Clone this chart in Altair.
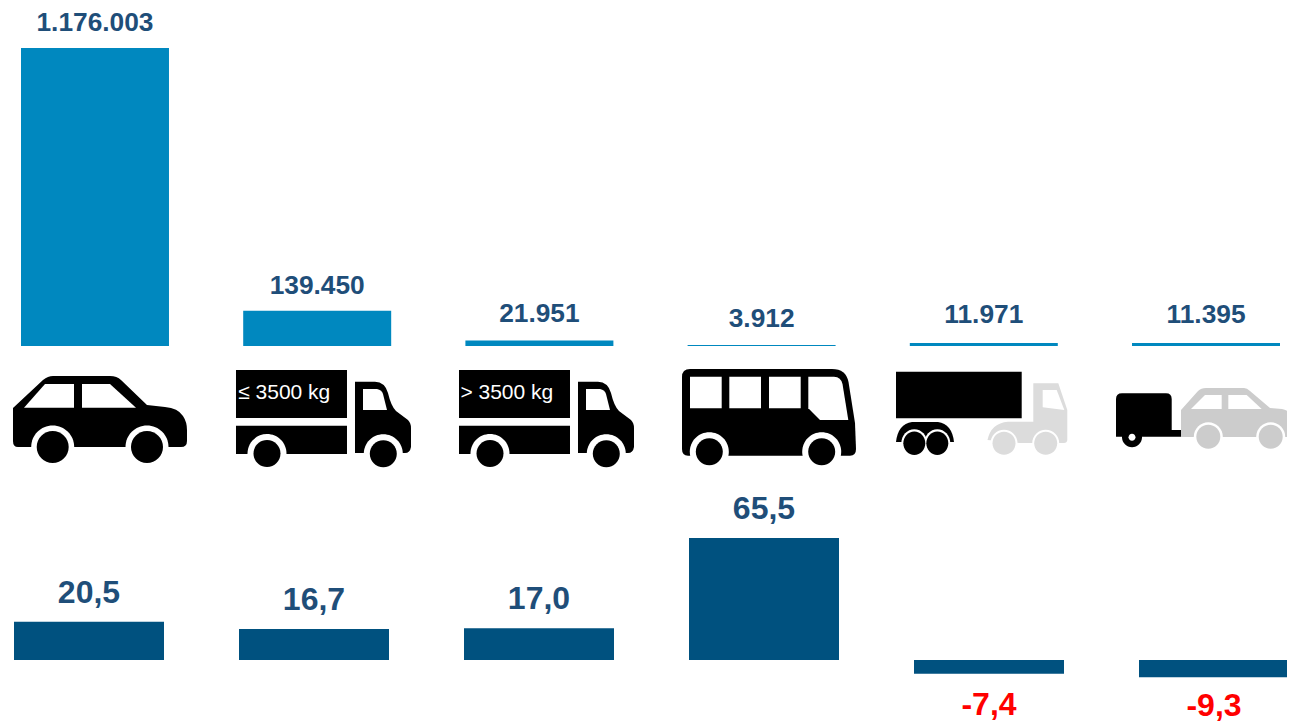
import re
import altair as alt
import pandas as pd

categories = ["Pkw", "Lkw bis 3500 kg", "Lkw über 3500 kg", "Busse", "Sattelzug", "Anhänger"]
registrations = [1176003, 139450, 21951, 3912, 11971, 11395]
registration_labels = ["1.176.003", "139.450", "21.951", "3.912", "11.971", "11.395"]
changes = [20.5, 16.7, 17.0, 65.5, -7.4, -9.3]
change_labels = ["20,5", "16,7", "17,0", "65,5", "-7,4", "-9,3"]
weight_labels = ["≤ 3500 kg", "> 3500 kg"]

BLUE = "#0088bf"
NAVY = "#00517f"
TEXT = "#1f4e79"
RED = "#ff0000"
BLACK = "#000000"
WHITE = "#ffffff"
GRAY = "#cccccc"
LIGHT = "#dcdcdc"

ICON_CX = [95, 317.2, 539.4, 761.6, 983.8, 1206]
ICON_CY = 415


def shift(path, dx, dy):
    """Turn an icon outline written on the page grid into one around its anchor."""
    out, i = [], 0
    for tok in re.findall(r"[A-Z]|-?[\d.]+", path):
        if tok.isalpha():
            out.append(tok)
            i = 0
        else:
            out.append(f"{float(tok) - (dx if i % 2 == 0 else dy):.1f}")
            i += 1
    return " ".join(out)


def circ(cx, cy, rx, ry=None):
    ry = rx if ry is None else ry
    kx, ky = rx * 0.5523, ry * 0.5523
    return (
        f"M{cx-rx} {cy} C{cx-rx} {cy-ky} {cx-kx} {cy-ry} {cx} {cy-ry} "
        f"C{cx+kx} {cy-ry} {cx+rx} {cy-ky} {cx+rx} {cy} "
        f"C{cx+rx} {cy+ky} {cx+kx} {cy+ry} {cx} {cy+ry} "
        f"C{cx-kx} {cy+ry} {cx-rx} {cy+ky} {cx-rx} {cy} Z"
    )


def box(x0, y0, x1, y1):
    return f"M{x0} {y0} L{x1} {y0} L{x1} {y1} L{x0} {y1} Z"


def wheel(cx, cy, r, ring, col=BLACK):
    return [(circ(cx, cy, ring), WHITE), (circ(cx, cy, r), col)]


def truck(off):
    o = off
    return [
        (box(236 + o, 370, 347 + o, 418), BLACK),
        (box(236 + o, 425.7, 347 + o, 454), BLACK),
        (f"M{355+o} 381.7 L{375+o} 381.7 Q{385+o} 382 {388+o} 393 Q{391+o} 406 {396+o} 411 "
         f"L{408+o} 420 Q{411+o} 423 {411+o} 428 L{411+o} 447 Q{410+o} 453 {405+o} 453 L{355+o} 453 Z", BLACK),
        (f"M{363+o} 389 L{377+o} 389 Q{382+o} 390 {383+o} 394 L{387+o} 410 L{363+o} 410 Z", WHITE),
        *wheel(267 + o, 453.5, 13.5, 19.5),
        *wheel(383.3 + o, 453.7, 13.5, 19.5),
    ]


car = [
    ("M13 408 L43 380 Q48 376 53 376 L110 376 Q117 376 121 380 L147 405 L165 407 Q178 408 183 416 "
     "Q187 422 187 430 L187 441 Q187 447 181 447 L18 447 Q13 447 13 441 Z", BLACK),
    ("M24 407.7 L45 384 L74 384 L74 407.7 Z", WHITE),
    ("M82 384 L110 384 L136 407.7 L82 407.7 Z", WHITE),
    *wheel(52.7, 447, 16, 21.5),
    *wheel(147, 447, 16, 21.5),
]

bus = [
    ("M690 369 L832 369 Q846 369 848.5 382 L855 423 L856 449 Q856 455.7 850 455.7 L688 455.7 "
     "Q682 455.7 682 449 L682 377 Q682 369 690 369 Z", BLACK),
    (box(690, 376.7, 721.7, 408.3), WHITE),
    (box(729.3, 376.7, 761, 408.3), WHITE),
    (box(769, 376.7, 800.7, 408.3), WHITE),
    ("M808.3 376.7 L834 376.7 Q841 377 842.5 384 L848.3 420 L820 420 L808.3 408.3 Z", WHITE),
    *wheel(709.3, 451.7, 13.5, 19.5),
    *wheel(821.7, 451.7, 13.5, 19.5),
]

semi = [
    (box(896, 371.7, 1021.7, 418.3), BLACK),
    ("M896 442 Q898 424 912 422 L938 422 Q952 424 954 442 Z", BLACK),
    (circ(914.3, 443.3, 13, 14), WHITE),
    (circ(937.3, 443.3, 13, 14), WHITE),
    (circ(914.3, 443.3, 11, 11.8), BLACK),
    (circ(937.3, 443.3, 11, 11.8), BLACK),
    ("M1033.3 383.3 L1058.3 383.3 L1067.3 410 L1067.3 440 Q1067 443 1064 443 L1030 443 L1020 443 "
     "L987.5 440 Q991 423 1008 421.7 L1033.3 421.7 Z", LIGHT),
    ("M1042.7 390 L1056.7 390 L1064.3 410 L1042.7 407.3 Z", WHITE),
    *wheel(1004, 443.3, 11.5, 13.5, LIGHT),
    *wheel(1045.7, 443.3, 11.5, 13.5, LIGHT),
]

trailer = [
    ("M1181 410 L1198 391 Q1201 388 1206 388 L1244 388 Q1247 388 1250 391 L1270 408 L1282 409 "
     "Q1292 411 1295 420 L1295 432 Q1294 437 1289 437 L1181 437 Z", GRAY),
    ("M1191 409 L1205 395 L1221.7 395 L1221.7 409 Z", WHITE),
    ("M1228.3 395 L1246.7 395 L1261.7 409 L1228.3 409 Z", WHITE),
    *wheel(1208.3, 436.7, 12, 14.5, GRAY),
    *wheel(1270.7, 436.7, 12, 14.5, GRAY),
    ("M1122 393.3 L1166 393.3 Q1171.7 393.3 1171.7 399 L1171.7 430 L1181 430 L1181 436.7 "
     "L1116 436.7 L1116 399 Q1116 393.3 1122 393.3 Z", BLACK),
    (circ(1132, 437.3, 10), BLACK),
    (circ(1132, 437.3, 3.5), WHITE),
]

icons = [car, truck(0), truck(223), bus, semi, trailer]

rows = []
for cat, cx, parts in zip(categories, ICON_CX, icons):
    for path, col in parts:
        rows.append(dict(cat=cat, part=f"p{len(rows):03d}", path=shift(path, cx, ICON_CY), col=col))
icon_df = pd.DataFrame(rows)

df = pd.DataFrame(dict(cat=categories, reg=registrations, reg_label=registration_labels,
                       chg=changes, chg_label=change_labels))
weights = pd.DataFrame(dict(cat=categories[1:3], label=weight_labels))

top_x = alt.X("cat:N", axis=None, sort=categories,
              scale=alt.Scale(type="band", domain=categories, range=[13, 1272],
                              paddingInner=0.334, paddingOuter=0))
bot_x = alt.X("cat:N", axis=None, sort=categories,
              scale=alt.Scale(type="band", domain=categories, range=[6, 1281],
                              paddingInner=1 / 3, paddingOuter=0))
top_y = alt.Y("reg:Q", axis=None,
              scale=alt.Scale(domain=[0, max(registrations)], range=[338, 40], nice=False, zero=True))
bot_y = alt.Y("chg:Q", axis=None,
              scale=alt.Scale(domain=[0, max(changes)], range=[652, 530], nice=False, zero=True))

base = alt.Chart(df)
top_bars = base.mark_bar(color=BLUE, cornerRadius=0).encode(x=top_x, y=top_y)
bot_bars = base.mark_bar(color=NAVY, cornerRadius=0).encode(x=bot_x, y=bot_y)


def top_text(names, dy):
    return (base.transform_filter(alt.FieldOneOfPredicate("cat", names))
            .mark_text(font="Liberation Sans", fontWeight="bold", fontSize=26.3, color=TEXT,
                       baseline="alphabetic", dy=dy)
            .encode(x=top_x, y=top_y, text="reg_label:N"))


def bottom_text(names, dy, color):
    return (base.transform_filter(alt.FieldOneOfPredicate("cat", names))
            .mark_text(font="Liberation Sans", fontWeight="bold", fontSize=32, color=color,
                       baseline="alphabetic", dy=dy)
            .encode(x=bot_x, y=bot_y, text="chg_label:N"))


top_labels = [
    top_text(categories[:2], -17),
    top_text(categories[2:4], -18),
    top_text(categories[4:], -20),
]

bottom_labels = [
    bottom_text(categories[:4], -19, TEXT),
    bottom_text(categories[4:5], 41, RED),
    bottom_text(categories[5:], 38.5, RED),
]

icon_layer = (alt.Chart(icon_df)
              .mark_point(filled=True, opacity=1, strokeWidth=0)
              .encode(x=top_x, y=alt.value(ICON_CY - 8), size=alt.value(4),
                      shape=alt.Shape("part:N", legend=None,
                                      scale=alt.Scale(domain=list(icon_df["part"]),
                                                      range=list(icon_df["path"]))),
                      color=alt.Color("col:N", scale=None, legend=None)))

weight_layer = (alt.Chart(weights)
                .mark_text(font="Liberation Sans", fontSize=21, color=WHITE, align="left",
                           baseline="alphabetic", dx=-79)
                .encode(x=top_x, y=alt.value(391), text="label:N"))

chart = (alt.layer(top_bars, *top_labels, bot_bars, *bottom_labels, icon_layer, weight_layer)
         .resolve_scale(x="independent", y="independent", shape="independent", color="independent")
         .properties(width=1279, height=715, padding=0,
                     autosize=alt.AutoSizeParams(type="none"), background="white")
         .configure_view(stroke=None))

chart.save("out.html", embed_options={"renderer": "svg", "actions": False})
